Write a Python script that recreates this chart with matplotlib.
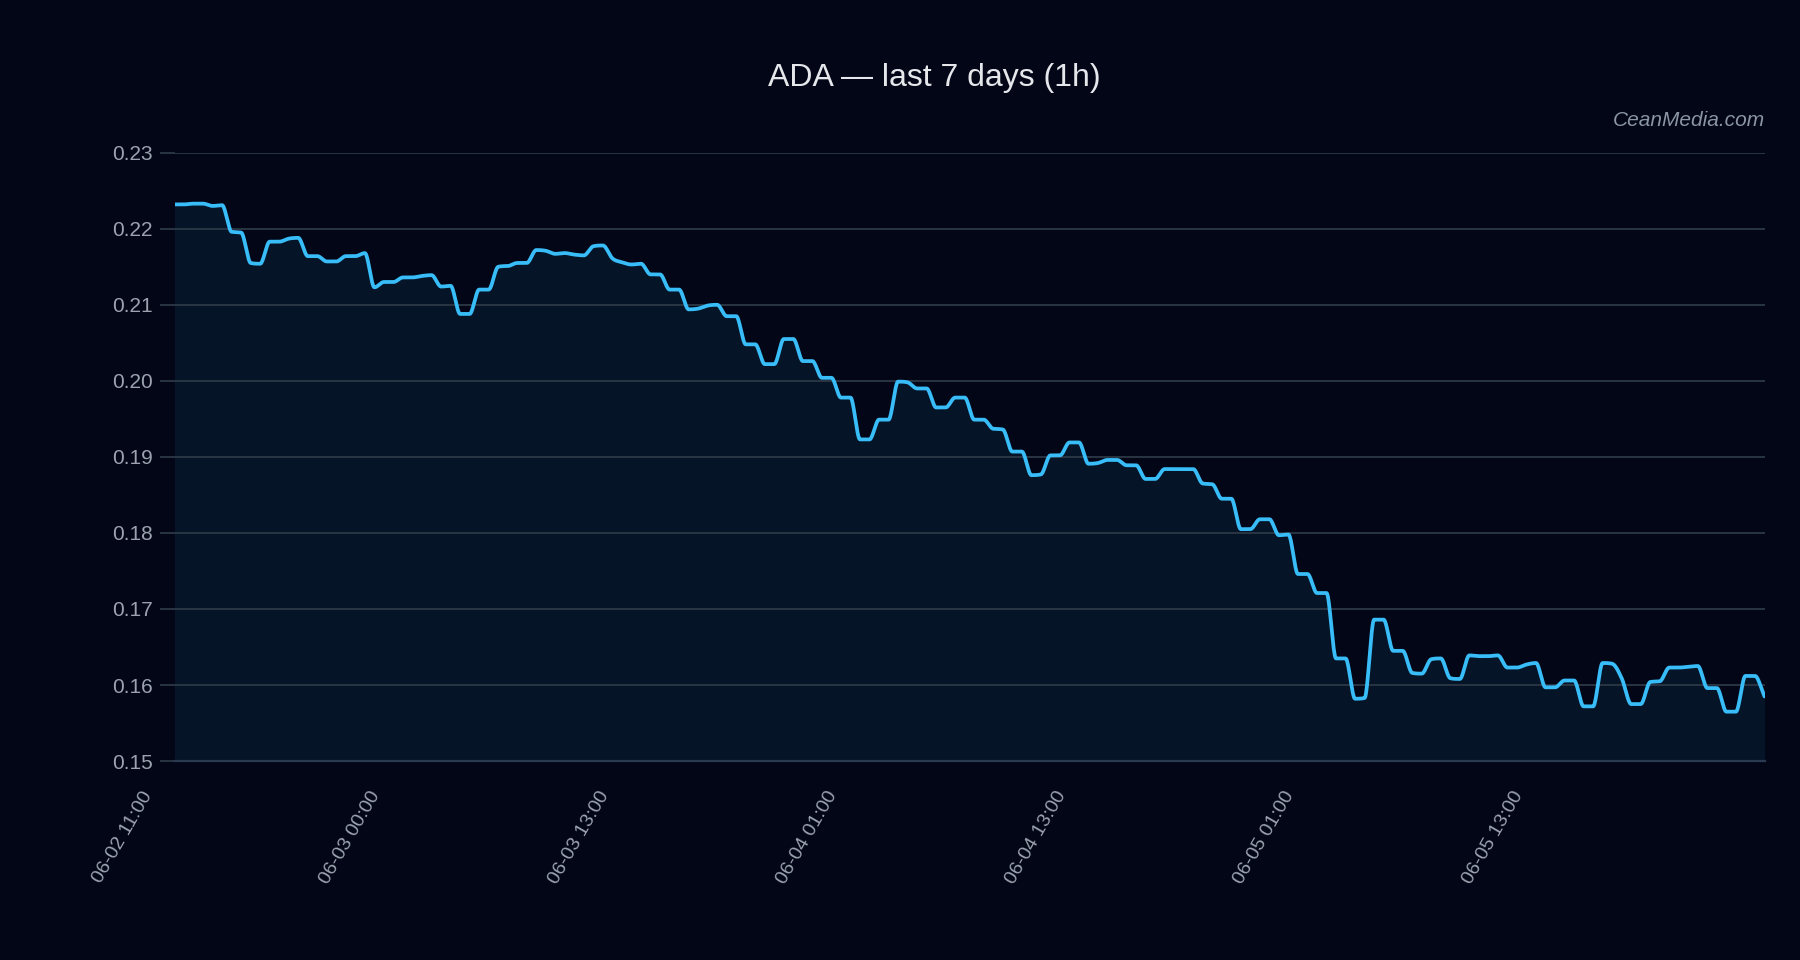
import numpy as np
import matplotlib
matplotlib.use("Agg")
import matplotlib.pyplot as plt
from matplotlib.transforms import ScaledTranslation

# ---------------- data ----------------
title_text = "ADA \u2014 last 7 days (1h)"
watermark = "CeanMedia.com"

prices = [
    0.2232, 0.2232, 0.2233, 0.2233, 0.2230, 0.2231, 0.2196, 0.2195, 0.2155, 0.2154,
    0.2183, 0.2183, 0.2187, 0.2188, 0.2164, 0.2164, 0.2157, 0.2157, 0.2164, 0.2164,
    0.2168, 0.2123, 0.2130, 0.2130, 0.2136, 0.2136, 0.2138, 0.2139, 0.2124, 0.2125,
    0.2088, 0.2088, 0.2120, 0.2120, 0.2150, 0.2151, 0.2155, 0.2155, 0.2172, 0.2171,
    0.2167, 0.2168, 0.2166, 0.2165, 0.2177, 0.2178, 0.2161, 0.2156, 0.2153, 0.2154,
    0.2140, 0.2140, 0.2120, 0.2120, 0.2094, 0.2095, 0.2099, 0.2100, 0.2085, 0.2085,
    0.2048, 0.2048, 0.2022, 0.2022, 0.2055, 0.2055, 0.2026, 0.2026, 0.2004, 0.2004,
    0.1978, 0.1978, 0.1923, 0.1923, 0.1949, 0.1949, 0.1999, 0.1998, 0.1990, 0.1990,
    0.1965, 0.1965, 0.1978, 0.1978, 0.1949, 0.1949, 0.1937, 0.1936, 0.1907, 0.1907,
    0.1876, 0.1877, 0.1902, 0.1902, 0.1919, 0.1919, 0.1891, 0.1892, 0.1896, 0.1896,
    0.1889, 0.1889, 0.1871, 0.1871, 0.1884, 0.1884, 0.1884, 0.1884, 0.1865, 0.1864,
    0.1845, 0.1845, 0.1805, 0.1805, 0.1818, 0.1818, 0.1797, 0.1798, 0.1746, 0.1746,
    0.1721, 0.1721, 0.1635, 0.1635, 0.1582, 0.1583, 0.1686, 0.1686, 0.1645, 0.1645,
    0.1616, 0.1615, 0.1634, 0.1635, 0.1609, 0.1608, 0.1639, 0.1638, 0.1638, 0.1639,
    0.1623, 0.1623, 0.1627, 0.1629, 0.1597, 0.1597, 0.1606, 0.1606, 0.1572, 0.1572,
    0.1629, 0.1628, 0.1609, 0.1575, 0.1575, 0.1604, 0.1605, 0.1623, 0.1623, 0.1624,
    0.1625, 0.1596, 0.1596, 0.1565, 0.1565, 0.1612, 0.1612, 0.1585,
]

x_tick_labels = ["06-02 11:00", "06-03 00:00", "06-03 13:00", "06-04 01:00",
                 "06-04 13:00", "06-05 01:00", "06-05 13:00"]
y_ticks = [0.15, 0.16, 0.17, 0.18, 0.19, 0.20, 0.21, 0.22, 0.23]
tick_every = 24

# ---------------- helpers ----------------
def monotone_curve(y, samples=20):
    """Monotone cubic (Fritsch-Carlson, as in Chart.js) through equally spaced points."""
    y = np.asarray(y, float)
    n = len(y)
    d = np.diff(y)
    m = np.zeros(n)
    m[0] = d[0]
    m[-1] = d[-1]
    for i in range(1, n - 1):
        if np.sign(d[i - 1]) != np.sign(d[i]):
            m[i] = 0.0
        else:
            m[i] = (d[i - 1] + d[i]) / 2
    for i in range(n - 1):
        if abs(d[i]) < 1e-12:
            m[i] = m[i + 1] = 0.0
            continue
        a = m[i] / d[i]
        b = m[i + 1] / d[i]
        s = a * a + b * b
        if s <= 9:
            continue
        tau = 3 / np.sqrt(s)
        m[i] = a * tau * d[i]
        m[i + 1] = b * tau * d[i]
    xs = np.linspace(0, n - 1, (n - 1) * samples + 1)
    idx = np.clip(np.floor(xs).astype(int), 0, n - 2)
    t = xs - idx
    h00 = 2 * t**3 - 3 * t**2 + 1
    h10 = t**3 - 2 * t**2 + t
    h01 = -2 * t**3 + 3 * t**2
    h11 = t**3 - t**2
    ys = h00 * y[idx] + h10 * m[idx] + h01 * y[idx + 1] + h11 * m[idx + 1]
    return xs, ys

# ---------------- style ----------------
BG = "#020617"
LINE = "#38bdf8"
GRID = "#2d3847"
TICKC = "#9ca3af"
plt.rcParams["font.family"] = ["Liberation Sans", "DejaVu Sans"]

fig = plt.figure(figsize=(18, 9.6), dpi=100, facecolor=BG)
ax = fig.add_axes([174.5 / 1800, 1 - 761.1 / 960, (1764.5 - 174.5) / 1800, (761.1 - 152.7) / 960])
ax.set_facecolor(BG)

n = len(prices)
xs, ys = monotone_curve(prices)

ax.fill_between(xs, ys, y_ticks[0], color=LINE, alpha=0.08, linewidth=0, zorder=1)
ax.plot(xs, ys, color=LINE, linewidth=2.7, solid_capstyle="round", zorder=3)

ax.set_xlim(0, n - 1)
ax.set_ylim(y_ticks[0], y_ticks[-1])
ax.set_yticks(y_ticks)
ax.set_yticklabels([f"{v:.2f}" for v in y_ticks])
ax.grid(axis="y", color=GRID, linewidth=1.3, zorder=0)
ax.grid(axis="x", visible=False)
for s in ["top", "right", "left"]:
    ax.spines[s].set_visible(False)
ax.spines["bottom"].set_color("#2a3a50")
ax.spines["bottom"].set_linewidth(1.6)

ax.tick_params(axis="y", colors=GRID, labelcolor=TICKC, labelsize=15,
               length=11, width=1.3, pad=4.5)
ax.tick_params(axis="x", length=0, labelcolor=TICKC, labelsize=14, pad=22.7)

tick_idx = list(range(0, n, tick_every))[:len(x_tick_labels)]
ax.set_xticks(tick_idx)
ax.set_xticklabels(x_tick_labels)
offset = ScaledTranslation(-26.5 / 100, 0, fig.dpi_scale_trans)
for lab in ax.get_xticklabels():
    lab.set_rotation(60)
    lab.set_ha("right")
    lab.set_va("center")
    lab.set_rotation_mode("anchor")
    lab.set_transform(lab.get_transform() + offset)

fig.text(934.5 / 1800, 1 - 78 / 960, title_text, ha="center", va="center",
         color="#e5e7eb", fontsize=23)
fig.text(1764.5 / 1800, 1 - 120 / 960, watermark, ha="right", va="center",
         color="#8b95a5", fontsize=15, style="italic")

fig.savefig("out.png", dpi=100, facecolor=BG)
